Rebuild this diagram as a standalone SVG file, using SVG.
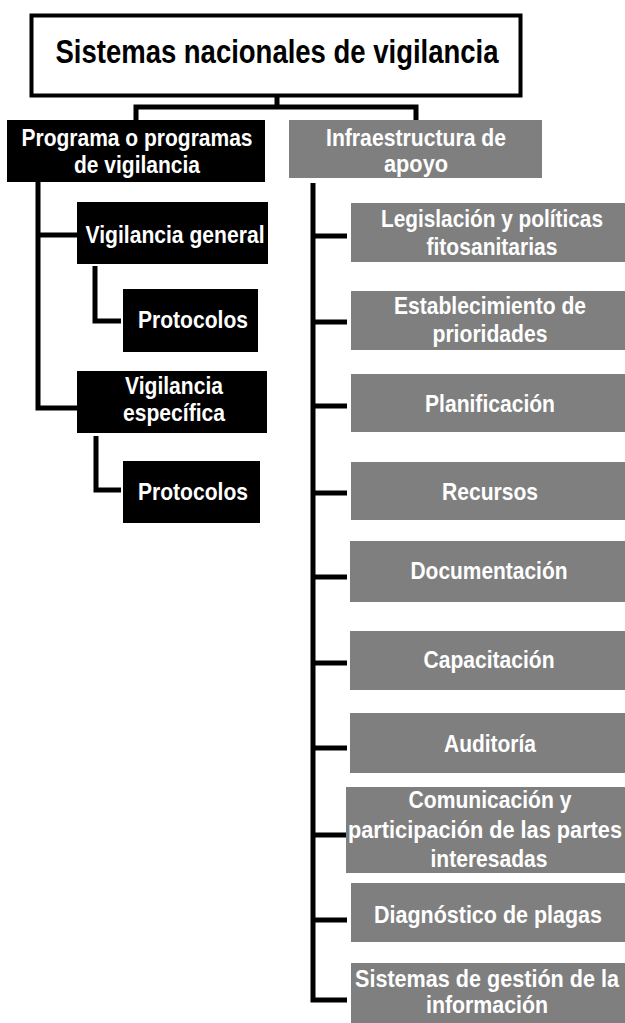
<svg xmlns="http://www.w3.org/2000/svg" width="625" height="1023" viewBox="0 0 625 1023">
<style>
.t{font-family:"Liberation Sans",Arial,sans-serif;font-weight:bold;font-size:24px;fill:#ffffff;text-anchor:middle}
.blk{fill:#000000}
.gry{fill:#7f7f7f}
.ln{stroke:#000000;stroke-width:5;fill:none;stroke-linecap:butt;stroke-linejoin:miter}
</style>
<rect width="625" height="1023" fill="#ffffff"/>
<g id="connectors">
<path class="ln" d="M277 97V107M136 120V107H416V120"/>
<path class="ln" d="M38 182V408H77M38 235H77"/>
<path class="ln" d="M95 266V321H121"/>
<path class="ln" d="M96 436V490H121"/>
<path class="ln" d="M313 183V1000H347M313 236H347M313 322H347M313 406H347M313 493H347M313 577H347M313 663H347M313 748H347M313 835H347M313 920H347"/>
</g>
<g id="title">
<rect x="31.5" y="15.5" width="489" height="80" fill="#ffffff" stroke="#000000" stroke-width="4"/>
<text x="277" y="63" font-family="'Liberation Sans',Arial,sans-serif" font-weight="bold" font-size="33" text-anchor="middle" textLength="443" lengthAdjust="spacingAndGlyphs" fill="#000000">Sistemas nacionales de vigilancia</text>
</g>
<g id="programa">
<rect class="blk" x="7" y="120" width="258" height="62"/>
<text class="t" x="137" y="146" textLength="231" lengthAdjust="spacingAndGlyphs">Programa o programas</text>
<text class="t" x="137" y="173" textLength="126" lengthAdjust="spacingAndGlyphs">de vigilancia</text>
</g>
<g id="vig-general">
<rect class="blk" x="77" y="202" width="191" height="62"/>
<text class="t" x="175" y="243" textLength="179" lengthAdjust="spacingAndGlyphs">Vigilancia general</text>
</g>
<g id="protocolos-1">
<rect class="blk" x="123" y="289" width="135" height="63"/>
<text class="t" x="193" y="328" textLength="110" lengthAdjust="spacingAndGlyphs">Protocolos</text>
</g>
<g id="vig-especifica">
<rect class="blk" x="77" y="371" width="190" height="62"/>
<text class="t" x="174" y="394" textLength="98" lengthAdjust="spacingAndGlyphs">Vigilancia</text>
<text class="t" x="174" y="421" textLength="102" lengthAdjust="spacingAndGlyphs">específica</text>
</g>
<g id="protocolos-2">
<rect class="blk" x="123" y="461" width="137" height="62"/>
<text class="t" x="193" y="500" textLength="110" lengthAdjust="spacingAndGlyphs">Protocolos</text>
</g>
<g id="infraestructura">
<rect class="gry" x="289" y="120" width="253" height="58"/>
<text class="t" x="416" y="146" textLength="180" lengthAdjust="spacingAndGlyphs">Infraestructura de</text>
<text class="t" x="416" y="172" textLength="64" lengthAdjust="spacingAndGlyphs">apoyo</text>
</g>
<g id="legislacion">
<rect class="gry" x="351" y="203" width="274" height="59"/>
<text class="t" x="492" y="227" textLength="222" lengthAdjust="spacingAndGlyphs">Legislación y políticas</text>
<text class="t" x="492" y="255" textLength="131" lengthAdjust="spacingAndGlyphs">fitosanitarias</text>
</g>
<g id="prioridades">
<rect class="gry" x="351" y="291" width="274" height="59"/>
<text class="t" x="490" y="314" textLength="192" lengthAdjust="spacingAndGlyphs">Establecimiento de</text>
<text class="t" x="490" y="342" textLength="115" lengthAdjust="spacingAndGlyphs">prioridades</text>
</g>
<g id="planificacion">
<rect class="gry" x="351" y="374" width="274" height="58"/>
<text class="t" x="490" y="412" textLength="130" lengthAdjust="spacingAndGlyphs">Planificación</text>
</g>
<g id="recursos">
<rect class="gry" x="351" y="462" width="274" height="58"/>
<text class="t" x="490" y="500" textLength="96" lengthAdjust="spacingAndGlyphs">Recursos</text>
</g>
<g id="documentacion">
<rect class="gry" x="350" y="541" width="275" height="61"/>
<text class="t" x="489" y="579" textLength="157" lengthAdjust="spacingAndGlyphs">Documentación</text>
</g>
<g id="capacitacion">
<rect class="gry" x="350" y="631" width="275" height="59"/>
<text class="t" x="489" y="668" textLength="131" lengthAdjust="spacingAndGlyphs">Capacitación</text>
</g>
<g id="auditoria">
<rect class="gry" x="350" y="713" width="275" height="60"/>
<text class="t" x="490" y="752" textLength="92" lengthAdjust="spacingAndGlyphs">Auditoría</text>
</g>
<g id="comunicacion">
<rect class="gry" x="346" y="787" width="279" height="86"/>
<text class="t" x="490" y="808" textLength="163" lengthAdjust="spacingAndGlyphs">Comunicación y</text>
<text class="t" x="485" y="838" textLength="274" lengthAdjust="spacingAndGlyphs">participación de las partes</text>
<text class="t" x="489" y="867" textLength="117" lengthAdjust="spacingAndGlyphs">interesadas</text>
</g>
<g id="diagnostico">
<rect class="gry" x="351" y="883" width="274" height="59"/>
<text class="t" x="488" y="923" textLength="228" lengthAdjust="spacingAndGlyphs">Diagnóstico de plagas</text>
</g>
<g id="sistemas-info">
<rect class="gry" x="351" y="963" width="274" height="60"/>
<text class="t" x="487" y="987" textLength="264" lengthAdjust="spacingAndGlyphs">Sistemas de gestión de la</text>
<text class="t" x="487" y="1013" textLength="122" lengthAdjust="spacingAndGlyphs">información</text>
</g>
</svg>
